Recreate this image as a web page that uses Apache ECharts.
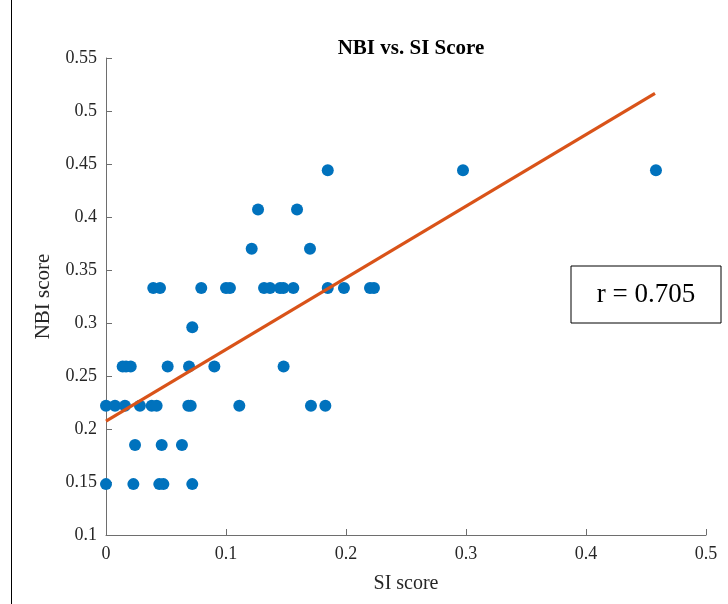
<!DOCTYPE html>
<html>
<head>
<meta charset="utf-8">
<script src="https://cdn.jsdelivr.net/npm/echarts@6/dist/echarts.min.js"></script>
<style>
    html, body { margin: 0; padding: 0; background: #fff; }
    #chart { width: 728px; height: 604px; }
</style>
</head>
<body>
<div id="chart"></div>
<script>
// SI score (x) and NBI score (y) per subject
const siScore = [
    0.1848, 0.2975, 0.4583,
    0.1267, 0.1592,
    0.1214, 0.1700,
    0.0394, 0.0450, 0.0794, 0.1000, 0.1033, 0.1317, 0.1367, 0.1450, 0.1478, 0.1561, 0.1848, 0.1983, 0.2200, 0.2233,
    0.0719,
    0.0139, 0.0167, 0.0206, 0.0514, 0.0692, 0.0903, 0.1480,
    0.0000, 0.0075, 0.0158, 0.0283, 0.0381, 0.0422, 0.0686, 0.0706, 0.1111, 0.1708, 0.1828,
    0.0242, 0.0464, 0.0633,
    0.0000, 0.0228, 0.0444, 0.0478, 0.0719,
];
const nbiScore = [
    0.444, 0.444, 0.444,
    0.407, 0.407,
    0.370, 0.370,
    0.333, 0.333, 0.333, 0.333, 0.333, 0.333, 0.333, 0.333, 0.333, 0.333, 0.333, 0.333, 0.333, 0.333,
    0.296,
    0.259, 0.259, 0.259, 0.259, 0.259, 0.259, 0.259,
    0.222, 0.222, 0.222, 0.222, 0.222, 0.222, 0.222, 0.222, 0.222, 0.222, 0.222,
    0.185, 0.185, 0.185,
    0.148, 0.148, 0.148, 0.148, 0.148,
];
// fitted line end points
const fitX = [0, 0.4575];
const fitY = [0.2075, 0.5167];
const rLabel = 'r = 0.705';

const serif = '"Liberation Serif", "DejaVu Serif", serif';
const axisColor = '#6e6e6e';
const textColor = '#262626';

const chart = echarts.init(document.getElementById('chart'));

chart.setOption({
    backgroundColor: '#fff',
    animation: false,
    title: {
        text: 'NBI vs. SI Score',
        left: 406,
        top: 33,
        textAlign: 'center',
        textStyle: { fontFamily: serif, fontWeight: 'bold', fontSize: 21, color: '#000' },
    },
    grid: { left: 106, right: 22, top: 58, bottom: 69 },
    xAxis: {
        type: 'value',
        min: 0, max: 0.5, interval: 0.1,
        name: 'SI score',
        nameLocation: 'middle',
        nameGap: 39,
        nameTextStyle: { fontFamily: serif, fontSize: 20, color: textColor },
        axisLine: { lineStyle: { color: axisColor, width: 1 } },
        axisTick: { inside: true, length: 6, lineStyle: { color: axisColor } },
        axisLabel: { fontFamily: serif, fontSize: 18, color: textColor, margin: 10,
            formatter: v => String(+v.toFixed(2)) },
        splitLine: { show: false },
    },
    yAxis: {
        type: 'value',
        min: 0.1, max: 0.55, interval: 0.05,
        name: 'NBI score',
        nameLocation: 'middle',
        nameGap: 52,
        nameRotate: 90,
        nameTextStyle: { fontFamily: serif, fontSize: 21, color: textColor },
        axisLine: { show: true, lineStyle: { color: axisColor, width: 1 } },
        axisTick: { show: true, inside: true, length: 6, lineStyle: { color: axisColor } },
        axisLabel: { fontFamily: serif, fontSize: 18, color: textColor, margin: 9,
            formatter: v => String(+v.toFixed(2)) },
        splitLine: { show: false },
    },
    series: [
        {
            type: 'scatter',
            symbolSize: 12,
            itemStyle: { color: '#0072BD', opacity: 1 },
            data: siScore.map((x, i) => [x, nbiScore[i]]),
            z: 2,
        },
        {
            type: 'line',
            data: fitX.map((x, i) => [x, fitY[i]]),
            symbol: 'none',
            lineStyle: { color: '#D95319', width: 3.2 },
            z: 3,
        },
    ],
    graphic: [
        {
            type: 'line',
            shape: { x1: 11.5, y1: 0, x2: 11.5, y2: 604 },
            style: { stroke: '#000', lineWidth: 1 },
        },
        {
            type: 'rect',
            shape: { x: 571, y: 266, width: 150, height: 57 },
            style: { fill: '#fff', stroke: '#000', lineWidth: 1 },
            z: 10,
        },
        {
            type: 'text',
            x: 646, y: 295,
            style: {
                text: rLabel,
                fontFamily: serif,
                fontSize: 27,
                fill: '#000',
                align: 'center',
                verticalAlign: 'middle',
            },
            z: 11,
        },
    ],
});
</script>
</body>
</html>
